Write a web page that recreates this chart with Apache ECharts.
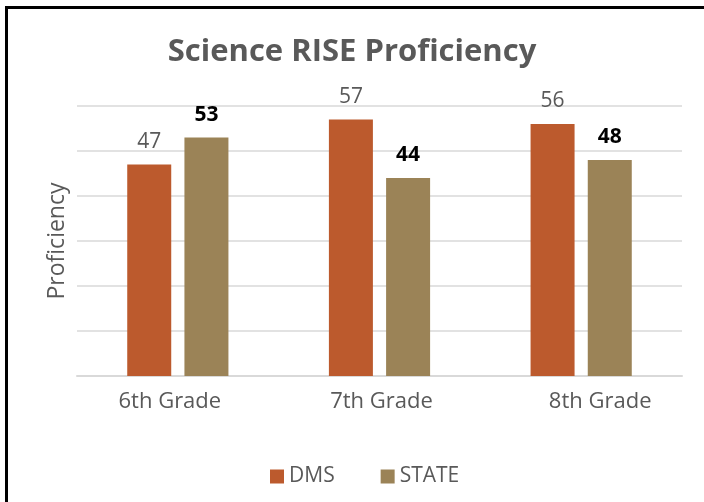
<!DOCTYPE html>
<html>
<head>
<meta charset="utf-8">
<script src="https://cdn.jsdelivr.net/npm/echarts@6/dist/echarts.min.js"></script>
<style>
  html, body { margin: 0; padding: 0; background: #fff; }
  #chart { width: 704px; height: 502px; }
</style>
</head>
<body>
<div id="chart"></div>
<script>
// data
var grades = ['6th Grade', '7th Grade', '8th Grade'];
var dmsValues = [47, 57, 56];
var stateValues = [53, 44, 48];

var myChart = echarts.init(document.getElementById('chart'));
var font = '"Open Sans", "Noto Sans", sans-serif';
var labelStyle = { color: '#595959', fontSize: 22 };

myChart.setOption({
    animation: false,
    textStyle: { fontFamily: font },
    title: {
        text: 'Science RISE Proficiency',
        left: 'center',
        top: 32,
        textStyle: { color: '#595959', fontSize: 31, fontWeight: 'bold', fontFamily: font }
    },
    legend: {
        bottom: 10,
        left: 265,
        itemWidth: 14,
        itemHeight: 14,
        itemGap: 46,
        icon: 'rect',
        textStyle: { color: '#595959', fontSize: 21 },
        data: ['DMS', 'STATE']
    },
    grid: {
        left: 77,
        right: 22,
        top: 106,
        bottom: 126
    },
    xAxis: {
        type: 'category',
        data: grades,
        axisTick: { show: false },   // no ticks in the reference
        axisLine: { lineStyle: { color: '#d9d9d9', width: 2 } },
        axisLabel: {
            margin: 15,
            // the labels in the picture sit a little off their bar pairs
            formatter: function (val, i) {
                return '{g' + i + '|' + val + '}';
            },
            rich: {
                g0: Object.assign({ padding: [0, 16, 0, 0] }, labelStyle),
                g1: Object.assign({ padding: [0, 0, 0, 4] }, labelStyle),
                g2: Object.assign({ padding: [0, 0, 0, 38] }, labelStyle)
            }
        }
    },
    yAxis: {
        type: 'value',
        min: 0,
        max: 60,
        interval: 10,
        name: 'Proficiency',
        nameLocation: 'middle',
        nameGap: 8,
        nameTextStyle: { color: '#595959', fontSize: 23 },
        axisLabel: { show: false },
        axisLine: { show: false },
        axisTick: { show: false },
        splitLine: { lineStyle: { color: '#d9d9d9', width: 1.5 } }
    },
    series: [{
        name: 'DMS',
        type: 'bar',
        data: dmsValues,
        barWidth: 44,
        barGap: '30%',
        itemStyle: { color: '#bc5a2d' },
        label: {
            show: true,
            position: 'top',
            distance: 12,
            color: '#595959',
            fontSize: 21
        }
    }, {
        name: 'STATE',
        type: 'bar',
        data: stateValues,
        barWidth: 44,
        itemStyle: { color: '#9b8357' },
        label: {
            show: true,
            position: 'top',
            distance: 12,
            color: '#000',
            fontSize: 21,
            fontWeight: 'bold'
        }
    }],
    graphic: [
        // black frame on the top and left edges
        { type: 'rect', left: 5, top: 6, shape: { width: 699, height: 3 }, style: { fill: '#000' } },
        { type: 'rect', left: 5, top: 6, shape: { width: 3, height: 496 }, style: { fill: '#000' } }
    ]
});
</script>
</body>
</html>
